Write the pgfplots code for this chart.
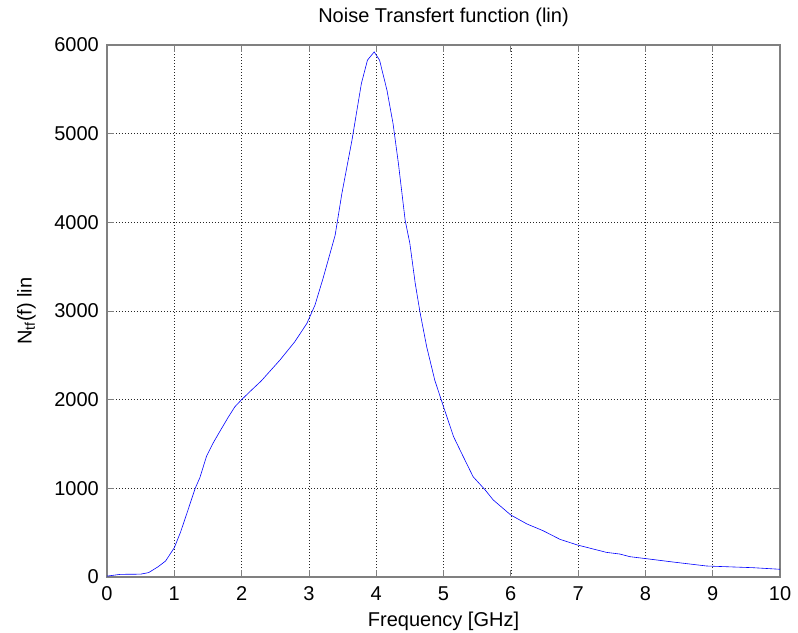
\documentclass[border=0pt]{standalone}
\usepackage{pgfplots}
\pgfplotsset{compat=1.18}
\usepackage{fontspec}
\setmainfont{Liberation Sans}
\begin{document}
\begin{tikzpicture}
\begin{axis}[
  at={(0,0)}, anchor=south west,
  scale only axis, width=673bp, height=532bp,
  xmin=0, xmax=10, ymin=0, ymax=6000,
  xtick={0,1,...,10}, ytick={0,1000,...,6000},
  scaled y ticks=false,
  /pgf/number format/assume math mode=true,
  /pgf/number format/1000 sep={},
  tick align=inside, tick pos=both,
  major tick length=6.7bp,
  grid=major,
  grid style={black!85, dash pattern=on 1bp off 2bp, line width=0.6bp},
  axis line style={black!50, line width=1.2bp},
  tick style={black!50, line width=0.8bp},
  every tick label/.append style={font=\fontsize{20bp}{24bp}\selectfont, inner sep=0pt},
  xticklabel style={anchor=base, yshift=-23.7bp},
  yticklabel style={anchor=east, xshift=-8bp},
  title={Noise Transfert function (lin)},
  title style={font=\fontsize{20bp}{24bp}\selectfont, at={(axis description cs:0.5,1)}, anchor=base, yshift=16.5bp, inner sep=0pt},
  xlabel={Frequency [GHz]},
  ylabel={N$_{\mathrm{tf}}$(f) lin},
  xlabel style={font=\fontsize{20bp}{24bp}\selectfont, at={(axis description cs:0.5,0)}, anchor=base, yshift=-49.7bp, inner sep=0pt},
  ylabel style={font=\fontsize{20bp}{24bp}\selectfont, at={(axis description cs:0,0.5)}, anchor=base, yshift=75.3bp, inner sep=0pt},
]
\addplot[blue, line width=0.6pt] coordinates {
(0,10) (0.2,30) (0.5,32) (0.62,50) (0.76,116) (0.87,180) (1.0,330) (1.09,500)
(1.19,725) (1.31,1000) (1.38,1120) (1.48,1365) (1.58,1515) (1.68,1646) (1.80,1800) (1.9,1920)
(2.0,2000) (2.15,2110) (2.29,2210) (2.57,2447) (2.79,2653) (2.97,2860) (3.09,3066) (3.21,3367)
(3.39,3855) (3.49,4325) (3.64,4927) (3.78,5566) (3.87,5829) (3.97,5922) (4.05,5829)
(4.16,5490) (4.25,5115) (4.33,4664) (4.43,4025) (4.50,3762) (4.58,3311) (4.65,2990)
(4.75,2597) (4.87,2221) (5.0,1920) (5.15,1582) (5.27,1394) (5.44,1131) (5.62,981)
(5.74,868) (6.0,699) (6.24,598) (6.48,522) (6.73,425) (6.99,361) (7.42,278)
(7.62,259) (7.77,229) (8.02,206) (8.41,169) (8.91,124) (9.60,105) (10.0,87)
};
\end{axis}
\pgfresetboundingbox
\path[use as bounding box] (-107bp,-56bp) rectangle (691bp,577bp);
\end{tikzpicture}
\end{document}
